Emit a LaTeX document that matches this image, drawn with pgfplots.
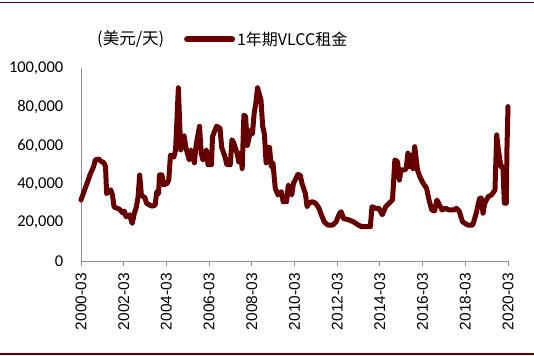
\documentclass[border=0pt]{standalone}
\usepackage{pgfplots}
\pgfplotsset{compat=1.18}
\usepackage{pgfplotstable}
\usepackage{fontspec}
\setmainfont{Liberation Sans}
\newfontfamily\cjk{Noto Sans CJK SC}
\newfontfamily\carlito{Carlito}
\definecolor{darkred}{HTML}{660000}
\definecolor{axgray}{HTML}{8C8C8C}
\pgfplotstableread{
x y
2000.17 31700
2000.44 40000
2000.60 45000
2000.76 49000
2000.84 52500
2001.00 53000
2001.08 52000
2001.24 51000
2001.32 49000
2001.37 35000
2001.56 37000
2001.64 34500
2001.72 28000
2001.96 27000
2002.12 25000
2002.20 26000
2002.28 23000
2002.44 24000
2002.57 19500
2002.65 24000
2002.76 28000
2002.84 33000
2002.92 44700
2003.00 34000
2003.16 33000
2003.24 30000
2003.48 28500
2003.64 29000
2003.72 36000
2003.80 35000
2003.85 44700
2003.96 44700
2004.04 39500
2004.20 40300
2004.28 42000
2004.36 55000
2004.52 54000
2004.60 57700
2004.73 90000
2004.84 57700
2005.00 65000
2005.08 59000
2005.24 52500
2005.32 57700
2005.48 51000
2005.56 60000
2005.72 70000
2005.80 56000
2005.88 52500
2006.04 57700
2006.12 50000
2006.28 50000
2006.33 64600
2006.52 70000
2006.68 69000
2006.76 59000
2006.92 54000
2007.00 50000
2007.16 50000
2007.24 63000
2007.32 61500
2007.48 56000
2007.56 51500
2007.64 56000
2007.72 48000
2007.80 75800
2007.88 75000
2007.96 60000
2008.12 68000
2008.20 66000
2008.28 76700
2008.36 82000
2008.44 90000
2008.60 83600
2008.68 70000
2008.76 66000
2008.84 51000
2008.92 59000
2009.00 59000
2009.08 49000
2009.16 51000
2009.27 37700
2009.40 34300
2009.56 36000
2009.64 30800
2009.80 30800
2009.88 39500
2010.04 34300
2010.12 40300
2010.20 42000
2010.33 45000
2010.44 44500
2010.52 40300
2010.68 35000
2010.76 28200
2010.84 30000
2011.00 30800
2011.16 30000
2011.32 27400
2011.40 24800
2011.56 20400
2011.72 18700
2011.96 18700
2012.12 20400
2012.28 24800
2012.36 25600
2012.47 22000
2012.68 21500
2012.92 20400
2013.16 18700
2013.32 17800
2013.72 17800
2013.80 28200
2013.96 27400
2014.12 27400
2014.28 24000
2014.44 28200
2014.60 30000
2014.76 31700
2014.87 52500
2015.00 51500
2015.08 42000
2015.16 47300
2015.32 47300
2015.40 48000
2015.48 56000
2015.56 49000
2015.64 55000
2015.72 48000
2015.80 59400
2015.93 47300
2016.04 43800
2016.20 40300
2016.36 37700
2016.47 31700
2016.60 26500
2016.73 26000
2016.84 31700
2016.92 30000
2017.08 26500
2017.24 27400
2017.40 26500
2017.64 26500
2017.75 27400
2017.88 26000
2018.04 20400
2018.28 18700
2018.52 18700
2018.68 24800
2018.84 32600
2018.92 32600
2019.00 24800
2019.08 30000
2019.24 33400
2019.40 34300
2019.56 36900
2019.64 65500
2019.72 57700
2019.84 49000
2019.93 49000
2020.00 30000
2020.09 30000
2020.12 57700
2020.17 80200
}\rent
\begin{document}
\begin{tikzpicture}
\path[use as bounding box] (0,0) rectangle (534bp,356bp);
\draw[darkred, line width=1.5bp] (0,353.3bp) -- (534bp,353.3bp);
\draw[darkred, line width=1.5bp] (0,2bp) -- (534bp,2bp);
\begin{axis}[
  at={(81bp,95bp)}, anchor=south west,
  scale only axis, width=427bp, height=192.5bp,
  xmin=2000.17, xmax=2020.17,
  ymin=0, ymax=100000,
  axis x line*=bottom, axis y line*=left,
  axis line style={axgray, line width=1bp, -},
  xtick={2000.17,2002.17,2004.17,2006.17,2008.17,2010.17,2012.17,2014.17,2016.17,2018.17,2020.17},
  xticklabels={2000-03,2002-03,2004-03,2006-03,2008-03,2010-03,2012-03,2014-03,2016-03,2018-03,2020-03},
  xtick align=outside, major tick length=5bp,
  xtick style={axgray, line width=1bp},
  ytick={0,20000,40000,60000,80000,100000},
  yticklabels={0,{20,000},{40,000},{60,000},{80,000},{100,000}},
  ytick style={draw=none},
  scaled y ticks=false,
  tick label style={text=black},
  xticklabel style={font=\fontsize{15.5bp}{17bp}\selectfont, rotate=90, anchor=east, inner xsep=7bp, inner ysep=0pt},
  yticklabel style={font=\carlito\fontsize{16.5bp}{18bp}\selectfont, anchor=east, inner sep=0pt, xshift=-17.5bp},
  legend style={at={(0.241,1.151)}, anchor=west, draw=none, fill=none, inner sep=0pt,
    font=\cjk\fontsize{16bp}{18bp}\selectfont},
  legend image code/.code={\draw[#1, line width=6bp] (0bp,0bp) -- (45bp,0bp);},
  clip=false,
]
\addplot[darkred, line width=5bp, line join=round, line cap=round] table[x=x,y=y] {\rent};
\addlegendentry{1年期VLCC租金}
\end{axis}
\node[anchor=west, inner sep=0pt, font=\cjk\fontsize{16.5bp}{18bp}\selectfont] at (97bp,317bp) {(美元/天)};
\end{tikzpicture}
\end{document}
